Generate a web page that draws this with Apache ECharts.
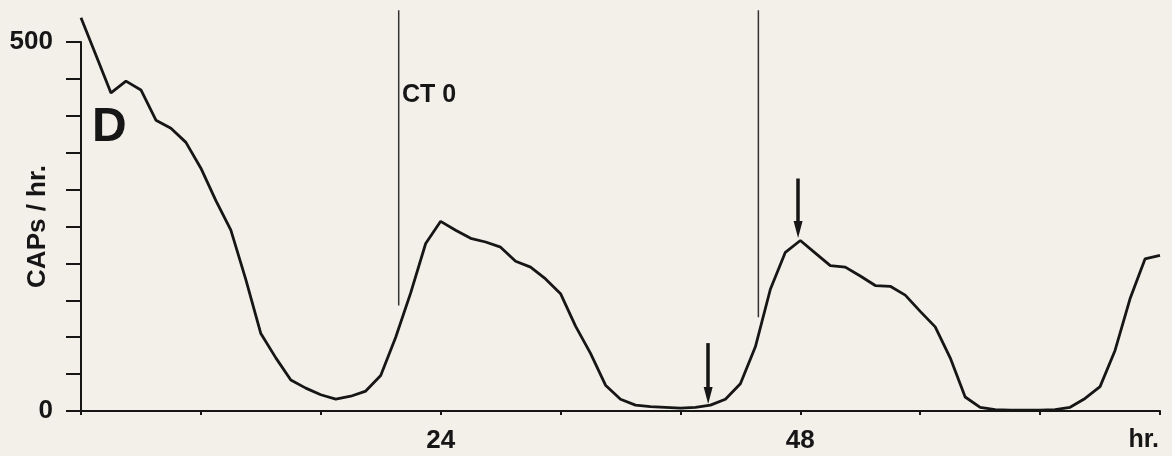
<!DOCTYPE html>
<html>
<head>
<meta charset="utf-8">
<script src="https://cdn.jsdelivr.net/npm/echarts@6/dist/echarts.min.js"></script>
<style>
  html, body { margin: 0; padding: 0; background: #f3f0ea; }
  #chart { width: 1172px; height: 456px; }
</style>
</head>
<body>
<div id="chart"></div>
<script>
// CAPs per hour, one reading per hour from 0 to 72 h
var caps = [
  533, 482, 431, 447, 435, 394, 383, 364, 329, 285,
  245, 178, 105, 72, 42, 31, 22, 16, 20, 27,
  48, 100, 160, 227, 257, 245, 234, 229, 222, 203,
  195, 179, 159, 115, 78, 35, 16, 8, 6, 5,
  4, 5, 8, 16, 37, 87, 165, 215, 231, 214,
  197, 195, 183, 170, 169, 157, 135, 114, 72, 19,
  5, 2, 1, 1, 1, 2, 5, 17, 33, 82,
  152, 206, 211
];
var xLabels = [24, 48];
var yLabels = [0, 500];
// CT 0 markers: hour, top value, bottom value
var ctHours = [21.2, 45.2];
var ctTop = [543, 543];
var ctBottom = [143, 127];
// arrows: hour, tail value, tip value
var arrowHours = [41.85, 47.85];
var arrowTail = [92, 315];
var arrowTip = [21, 246];

(function() {
  var ink = '#161616';
  var font = '"Liberation Sans", Arial, sans-serif';

  var data = caps.map(function(v, i) { return [i, v]; });

  var arrows = arrowHours.map(function(h, i) {
    return [
      { coord: [h, arrowTail[i]], symbol: 'none' },
      { coord: [h, arrowTip[i]], symbol: 'triangle', symbolSize: [9, 17], symbolRotate: 180 }
    ];
  });

  var series = [{
    type: 'line',
    data: data,
    clip: false,
    symbol: 'none',
    lineStyle: { color: ink, width: 2.8 },
    markLine: {
      silent: true,
      symbol: 'none',
      label: { show: false },
      lineStyle: { width: 3.5, color: ink, type: 'solid' },
      data: arrows
    }
  }];
  ctHours.forEach(function(h, i) {
    series.push({
      type: 'line',
      data: [[h, ctTop[i]], [h, ctBottom[i]]],
      clip: false,
      symbol: 'none',
      silent: true,
      lineStyle: { color: '#333', width: 1.5 }
    });
  });

  var chart = echarts.init(document.getElementById('chart'), null, { renderer: 'canvas' });
  chart.setOption({
    animation: false,
    backgroundColor: '#f3f0ea',
    grid: { left: 81, right: 12, top: 42, bottom: 45, containLabel: false, outerBoundsMode: 'none' },
    xAxis: {
      type: 'value',
      min: 0,
      max: 72,
      interval: 8,
      splitLine: { show: false },
      axisLine: { lineStyle: { color: ink, width: 2 } },
      axisTick: { show: true, length: 4, lineStyle: { color: ink, width: 2 } },
      axisLabel: {
        margin: 17,
        color: ink,
        fontFamily: font,
        fontWeight: 'bold',
        fontSize: 26,
        formatter: function(v) { return xLabels.indexOf(v) >= 0 ? String(v) : ''; }
      }
    },
    yAxis: {
      type: 'value',
      min: 0,
      max: 500,
      interval: 50,
      name: 'CAPs / hr.',
      nameLocation: 'middle',
      nameRotate: 90,
      nameGap: 30,
      nameMoveOverlap: false,
      nameTextStyle: { color: ink, fontFamily: font, fontWeight: 'bold', fontSize: 26 },
      splitLine: { show: false },
      axisLine: { lineStyle: { color: ink, width: 2 } },
      axisTick: { show: true, length: 15, lineStyle: { color: ink, width: 2 } },
      axisLabel: {
        margin: 28,
        color: ink,
        fontFamily: font,
        fontWeight: 'bold',
        fontSize: 26,
        formatter: function(v) { return yLabels.indexOf(v) >= 0 ? String(v) : ''; }
      }
    },
    graphic: [
      { type: 'text', left: 92, top: 104, style: { text: 'D', fill: ink, font: 'bold 48px ' + font } },
      { type: 'text', left: 402, top: 83, style: { text: 'CT 0', fill: ink, font: 'bold 25px ' + font } },
      { type: 'text', right: 13, top: 428, style: { text: 'hr.', fill: ink, font: 'bold 25px ' + font } }
    ],
    series: series
  });
  window.addEventListener('resize', function() { chart.resize(); });
})();
</script>
</body>
</html>
